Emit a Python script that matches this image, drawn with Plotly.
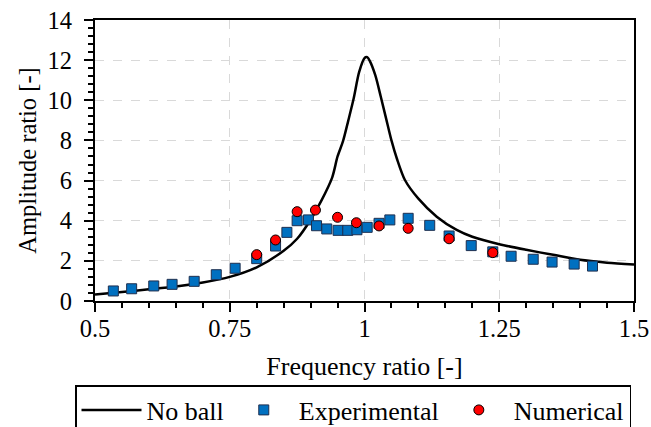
import plotly.graph_objects as go

# "No ball" curve
noball_x = [0.5, 0.55, 0.6, 0.65, 0.7, 0.75, 0.8, 0.85, 0.875, 0.9, 0.92, 0.94, 0.95, 0.96,
            0.97, 0.98, 0.99, 1.0, 1.005, 1.01, 1.02, 1.03, 1.04, 1.05, 1.06, 1.075, 1.1,
            1.134, 1.171, 1.2, 1.25, 1.3, 1.35, 1.4, 1.45, 1.5]
noball_y = [0.33, 0.45, 0.58, 0.72, 0.92, 1.2, 1.68, 2.5, 3.1, 4.05, 5.0, 6.15, 7.2, 7.95,
            9.0, 10.1, 11.4, 12.1, 12.15, 11.95, 11.25, 10.2, 9.1, 8.0, 7.1, 6.03, 5.1,
            4.2, 3.54, 3.2, 2.83, 2.55, 2.3, 2.05, 1.91, 1.82]

# Experimental
exp_x = [0.534, 0.568, 0.609, 0.643, 0.684, 0.725, 0.760, 0.800, 0.835, 0.856, 0.875, 0.896,
         0.911, 0.930, 0.951, 0.969, 0.986, 1.005, 1.027, 1.047, 1.081, 1.121, 1.157, 1.198,
         1.238, 1.272, 1.313, 1.348, 1.389, 1.423]
exp_y = [0.50, 0.61, 0.75, 0.83, 0.98, 1.31, 1.63, 2.11, 2.74, 3.42, 4.00, 4.04,
         3.75, 3.59, 3.52, 3.52, 3.55, 3.67, 3.87, 4.04, 4.12, 3.77, 3.24, 2.76,
         2.45, 2.23, 2.08, 1.94, 1.84, 1.74]

# Numerical
num_x = [0.800, 0.835, 0.875, 0.909, 0.950, 0.985, 1.027, 1.081, 1.157, 1.238]
num_y = [2.31, 3.04, 4.45, 4.53, 4.17, 3.90, 3.74, 3.62, 3.10, 2.41]

x_ticks = [0.5, 0.75, 1, 1.25, 1.5]
x_tick_labels = ["0.5", "0.75", "1", "1.25", "1.5"]

FONT = "Liberation Serif"
TICKF = dict(family=FONT, size=24.5, color="black")
XTF = dict(family=FONT, size=26, color="black")
YTF = dict(family=FONT, size=24.5, color="black")
LEGF = dict(family=FONT, size=26, color="black")

fig = go.Figure()
fig.add_trace(go.Scatter(x=noball_x, y=noball_y, mode="lines", name="No ball",
                         line=dict(color="black", width=2.5, shape="spline", smoothing=0.8)))
fig.add_trace(go.Scatter(x=exp_x, y=exp_y, mode="markers", name="Experimental",
                         marker=dict(symbol="square", size=10, color="#0070C0",
                                     line=dict(color="#1f2f4f", width=1))))
fig.add_trace(go.Scatter(x=num_x, y=num_y, mode="markers", name="Numerical",
                         marker=dict(symbol="circle", size=10, color="#FF0000",
                                     line=dict(color="black", width=1))))

axis_common = dict(showline=True, linecolor="black", linewidth=2, mirror=True,
                   ticks="outside", tickcolor="black", ticklen=9, tickwidth=1.5,
                   showgrid=True, gridcolor="#d9d9d9", griddash="dash", gridwidth=1,
                   zeroline=False, tickfont=TICKF, automargin=False)

fig.update_layout(
    width=651, height=427,
    margin=dict(l=95, r=17, t=20, b=126, autoexpand=False),
    plot_bgcolor="white", paper_bgcolor="white",
    font=dict(family=FONT, size=24, color="black"),
    xaxis=dict(range=[0.5, 1.5], tickvals=x_ticks, ticktext=x_tick_labels,
               ticklabelstandoff=-4,
               title=dict(text="Frequency ratio [-]", font=XTF, standoff=15),
               minor=dict(dtick=0.05, ticks="outside", ticklen=5, tickcolor="black", tickwidth=1.5, showgrid=False),
               **axis_common),
    yaxis=dict(range=[0, 14], dtick=2, ticklabelstandoff=7,
               title=dict(text="Amplitude ratio [-]", font=YTF, standoff=4),
               minor=dict(dtick=0.4, ticks="outside", ticklen=5, tickcolor="black", tickwidth=1.5, showgrid=False),
               **axis_common),
    legend=dict(orientation="h", x=(75 - 95) / 539, xanchor="left", y=(301 - 385) / 281, yanchor="top",
                bordercolor="black", borderwidth=1.5, font=LEGF,
                bgcolor="white", itemwidth=60),
    showlegend=True,
)

fig.write_html("out.html", config={"displayModeBar": False},
               post_script="document.body.style.margin='0px';document.body.style.padding='0px';")
